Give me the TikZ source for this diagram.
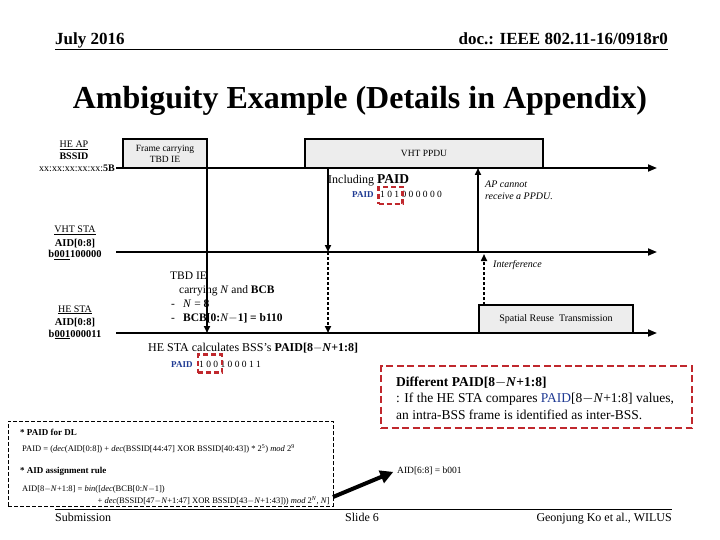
\documentclass[tikz,border=0pt]{standalone}
\usepackage{fontspec}
\setmainfont{Liberation Serif}
\usetikzlibrary{arrows.meta}
\definecolor{boxgray}{HTML}{EDEDED}
\definecolor{paidblue}{HTML}{1F3A93}
\definecolor{dred}{HTML}{C0282D}
\newcommand{\myfs}[1]{\fontsize{#1}{#1}\selectfont}
\begin{document}
\begin{tikzpicture}[x=1pt,y=-1pt,
 tline/.style={line width=1.8pt,-{Triangle[length=9pt,width=7pt]}},
 varrow/.style={line width=1.6pt,-{Triangle[length=7pt,width=6pt]}},
 graybox/.style={draw,line width=2.6pt,fill=boxgray,inner sep=0pt,outer sep=0pt,align=center},
 redbox/.style={draw=dred,line width=2.4pt,dash pattern=on 5pt off 3pt,inner sep=0pt,outer sep=0pt},
 lbl/.style={inner sep=0pt,anchor=base},
 txt/.style={inner sep=0pt,anchor=base west},
 txte/.style={inner sep=0pt,anchor=base east},
]
\useasboundingbox[fill=white] (0,0) rectangle (720,540);

% header
\node[txt,font=\bfseries\myfs{17}] (date) at (55,45) {July 2016};
\node[txte,font=\bfseries\myfs{17}] (doc) at (668,45) {doc.: IEEE 802.11-16/0918r0};
\coordinate (hrL) at (55,50);
\coordinate (hrR) at (668,50);
\draw[line width=1pt] (hrL) -- (hrR);
\node[lbl,font=\bfseries\myfs{32}] (title) at (360,109) {Ambiguity Example (Details in Appendix)};

% left labels
\node[lbl,font=\myfs{10}] (heap) at (74,148) {\underline{HE AP}};
\node[lbl,font=\bfseries\myfs{10}] (bssid) at (74,160) {BSSID};
\node[txte,font=\myfs{10}] (mac) at (115,172) {xx:xx:xx:xx:xx:\textbf{5B}};

\node[lbl,font=\myfs{10}] (vhtsta) at (75,233) {\underline{VHT STA}};
\node[lbl,font=\bfseries\myfs{10.5}] (vhtaid) at (75,246) {AID[0:8]};
\node[lbl,font=\bfseries\myfs{10.5}] (vhtbits) at (75,258) {b\underline{001}100000};

\node[lbl,font=\myfs{10}] (hesta) at (75,312) {\underline{HE STA}};
\node[lbl,font=\bfseries\myfs{10.5}] (heaid) at (75,325) {AID[0:8]};
\node[lbl,font=\bfseries\myfs{10.5}] (hebits) at (75,337) {b\underline{001}000011};

% timelines
\coordinate (apS) at (116,168);
\coordinate (apE) at (657,168);
\coordinate (vhS) at (116,252);
\coordinate (vhE) at (657,252);
\coordinate (heS) at (116,333);
\coordinate (heE) at (657,333);
\draw[tline] (apS) -- (apE);
\draw[tline] (vhS) -- (vhE);
\draw[tline] (heS) -- (heE);

% boxes
\node[graybox,minimum width=84pt,minimum height=29pt,font=\fontsize{9.5}{11}\selectfont,anchor=south west] (frame) at (123,168) {Frame carrying\\TBD IE};
\node[graybox,minimum width=238pt,minimum height=29pt,font=\myfs{9.5},anchor=south west] (ppdu) at (305,168) {VHT PPDU};
\node[graybox,minimum width=154pt,minimum height=28pt,font=\myfs{10},anchor=south west] (sr) at (479,333) {Spatial Reuse\ \ Transmission};

% vertical arrows
\draw[varrow] (frame.south east) -- (frame.south east |- heS);
\coordinate (pv) at (328,168);
\draw[varrow] (pv) -- (pv |- vhS);
\draw[varrow,dash pattern=on 3pt off 2pt] (pv |- vhS) -- (pv |- heS);
\coordinate (up) at (478,252);
\draw[varrow] (up) -- (up |- apS);
\coordinate (intf) at (484,305);
\draw[varrow,dash pattern=on 3pt off 2pt,shorten >=2pt] (intf) -- (intf |- vhS);

% annotations near PPDU
\node[txt,font=\myfs{12}] (incl) at (328,184) {Including \textbf{\myfs{13.5}PAID}};
\node[txt,font=\bfseries\myfs{9},text=paidblue] (paid1) at (352,198) {PAID};
\node[txt,font=\myfs{9.5}] (bits1) at (380,198) {1 0 1 0 0 0 0 0 0};
\node[redbox,minimum width=24pt,minimum height=17pt] (r1) at (390.5,195.5) {};

\node[txt,font=\itshape\myfs{10}] (apc1) at (485,188) {AP cannot};
\node[txt,font=\itshape\myfs{10}] (apc2) at (485,200) {receive a PPDU.};
\node[txt,font=\itshape\myfs{10}] (intl) at (493,267) {Interference};

% TBD IE block
\node[txt,font=\myfs{11.5}] (tbd) at (170,279) {TBD IE};
\node[txt,font=\myfs{11.5}] (carry) at (179,293) {carrying \textit{N} and \textbf{BCB}};
\node[txt,font=\myfs{11.5}] (d1) at (171,307) {-};
\node[txt,font=\myfs{11.5}] (nval) at (183,307) {\textit{N} = \textbf{8}};
\node[txt,font=\myfs{11.5}] (d2) at (171,321) {-};
\node[txt,font=\myfs{11.5}] (bcb) at (183,321) {\textbf{BCB[0:}\textit{N}\textbf{$-$1] = b110}};

% HE STA calculation
\node[txt,font=\myfs{12}] (calc) at (148,351) {HE STA calculates BSS’s \textbf{PAID[8$-$}\textit{\textbf{N}}\textbf{+1:8]}};
\node[txt,font=\bfseries\myfs{9},text=paidblue] (paid2) at (171,367) {PAID};
\node[txt,font=\myfs{9.5}] (bits2) at (199,367) {1 0 0 1 0 0 0 1 1};
\node[redbox,minimum width=24pt,minimum height=18pt] (r2) at (210,363.5) {};

% Different PAID box
\node[redbox,line width=2.6pt,dash pattern=on 7pt off 3.5pt,minimum width=311pt,minimum height=62pt,anchor=north west] (diff) at (381,366) {};
\node[txt,font=\bfseries\myfs{13.5}] (diff1) at (396,386) {Different PAID[8$-$\textit{N}+1:8]};
\node[txt,font=\myfs{13.5}] (diff2) at (396,402) {: If the HE STA compares \textcolor{paidblue}{PAID}[8$-$\textit{N}+1:8] values,};
\node[txt,font=\myfs{13.5}] (diff3) at (396,419) {an intra-BSS frame is identified as inter-BSS.};

% rules box
\node[draw,line width=0.8pt,dash pattern=on 4pt off 2pt,minimum width=325pt,minimum height=85pt,anchor=north west,inner sep=0pt,outer sep=0pt] (rules) at (8,421) {};
\node[txt,font=\bfseries\myfs{9}] (pdl) at (20,435) {* PAID for DL};
\node[txt,font=\myfs{8.5}] (pf) at (22,451) {PAID = (\textit{dec}(AID[0:8]) + \textit{dec}(BSSID[44:47] XOR BSSID[40:43]) * 2\textsuperscript{5}) \textit{mod} 2\textsuperscript{9}};
\node[txt,font=\bfseries\myfs{9}] (aar) at (20,473) {* AID assignment rule};
\node[txt,font=\myfs{8.5}] (af1) at (22,491) {AID[8$-$\textit{N}+1:8] = \textit{bin}([\textit{dec}(BCB[0:\textit{N}$-$1])};
\node[txte,font=\myfs{8.5}] (af2) at (330,503) {+ \textit{dec}(BSSID[47$-$\textit{N}+1:47] XOR BSSID[43$-$\textit{N}+1:43])) \textit{mod} 2\textsuperscript{\textit{N}}, \textit{N}]};

% AID result + arrow
\node[txt,font=\myfs{9.5}] (aid) at (397,473) {AID[6:8] = b001};
\coordinate (ta) at (333,497);
\draw[line width=4pt,-{Triangle[length=13pt,width=13pt]},shorten >=4pt] (ta) -- (aid.west);

% footer
\coordinate (ftL) at (55,509);
\coordinate (ftR) at (672,509);
\draw[line width=1pt] (ftL) -- (ftR);
\node[txt,font=\myfs{12}] (sub) at (55,521) {Submission};
\node[txt,font=\myfs{12}] (slide) at (345,521) {Slide 6};
\node[txte,font=\myfs{12}] (auth) at (672,521) {Geonjung Ko et al., WILUS};
\end{tikzpicture}
\end{document}
